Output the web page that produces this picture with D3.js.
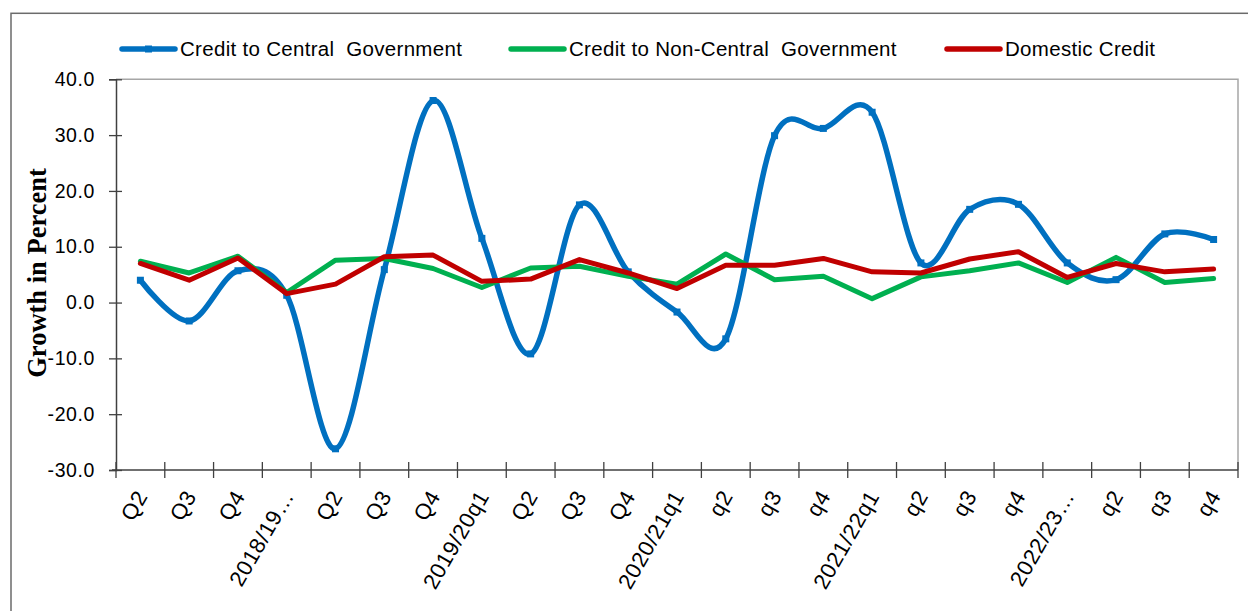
<!DOCTYPE html>
<html>
<head>
<meta charset="utf-8">
<script src="https://cdn.jsdelivr.net/npm/d3@7"></script>
<style>
  body { margin: 0; background: #fff; }
  text { font-family: "Liberation Sans", Arial, sans-serif; fill: #000; }
</style>
</head>
<body>
<div class="chart"></div>
<script>
/* chart data */
const categories = ["Q2", "Q3", "Q4", "2018/19\u2026", "Q2", "Q3", "Q4", "2019/20q1",
  "Q2", "Q3", "Q4", "2020/21q1", "q2", "q3", "q4", "2021/22q1",
  "q2", "q3", "q4", "2022/23\u2026", "q2", "q3", "q4"];

const centralGov = [4.0, -3.3, 5.7, 1.3, -26.2, 5.9, 36.2, 11.5, -9.2, 17.5, 5.5, -1.7,
  -6.5, 29.9, 31.2, 34.1, 7.1, 16.7, 17.6, 7.1, 4.1, 12.3, 11.3];

const nonCentralGov = [7.4, 5.3, 8.3, 1.8, 7.6, 7.9, 6.1, 2.7, 6.2, 6.5, 4.7, 3.3,
  8.7, 4.1, 4.7, 0.7, 4.6, 5.7, 7.1, 3.6, 8.1, 3.6, 4.3];

const domesticCredit = [7.0, 4.0, 8.0, 1.6, 3.3, 8.2, 8.5, 3.8, 4.2, 7.7, 5.3, 2.5,
  6.7, 6.7, 7.9, 5.5, 5.3, 7.8, 9.1, 4.5, 7.0, 5.5, 6.0];

const yTicks = [-30, -20, -10, 0, 10, 20, 30, 40];

const seriesNames = ["Credit to Central  Government", "Credit to Non-Central  Government", "Domestic Credit"];
const seriesColors = ["#0070C0", "#00B050", "#C00000"];

/* dimensions */
const W = 1248, H = 611;
const plot = {left: 116, right: 1238, top: 79.3, bottom: 470};

const svg = d3.select(".chart")
  .append("svg")
  .attr("width", W)
  .attr("height", H);

/* outer frame */
svg.append("rect")
  .attr("x", 11).attr("y", 13.3)
  .attr("width", 1260).attr("height", 640)
  .attr("fill", "none")
  .attr("stroke", "#6b6b6b")
  .attr("stroke-width", 1.5);

/* scales */
const x = d3.scaleBand()
  .domain(categories.map((d, i) => i))
  .range([plot.left, plot.right]);
const cx = i => x(i) + x.bandwidth() / 2;

const y = d3.scaleLinear()
  .domain([-30, 40])
  .range([plot.bottom, plot.top]);

/* plot area border (top + right) */
svg.append("path")
  .attr("d", `M${plot.left},${plot.top}H${plot.right}V${plot.bottom}`)
  .attr("fill", "none")
  .attr("stroke", "#a6a6a6")
  .attr("stroke-width", 1.5);

/* y axis */
const yAxis = svg.append("g")
  .attr("transform", `translate(${plot.left},0)`)
  .call(d3.axisLeft(y).tickValues(yTicks).tickFormat(d => d.toFixed(1)).tickSize(7).tickPadding(14));
yAxis.select(".domain").attr("stroke", "#404040").attr("stroke-width", 1.5);
yAxis.selectAll(".tick line").attr("x2", 6).attr("x1", -7).attr("stroke", "#404040").attr("stroke-width", 1.3);
yAxis.selectAll(".tick text")
  .attr("font-size", 19.5)
  .attr("letter-spacing", 0.6)
  .attr("font-family", "'Liberation Sans', Arial, sans-serif")
  .attr("fill", "#000");

/* x axis: ticks between categories */
const xEdges = categories.map((d, i) => x(i)).concat([plot.right]);
const xAxis = svg.append("g").attr("class", "xAxis");
xAxis.append("line")
  .attr("x1", plot.left - 4).attr("x2", plot.right)
  .attr("y1", plot.bottom).attr("y2", plot.bottom)
  .attr("stroke", "#404040").attr("stroke-width", 1.5);
xAxis.selectAll("line.tk")
  .data(xEdges)
  .join("line")
  .attr("class", "tk")
  .attr("x1", d => d).attr("x2", d => d)
  .attr("y1", plot.bottom - 8).attr("y2", plot.bottom + 8)
  .attr("stroke", "#404040").attr("stroke-width", 1.3);

xAxis.selectAll("text.lbl")
  .data(categories)
  .join("text")
  .attr("class", "lbl")
  .attr("transform", (d, i) => `translate(${cx(i) + 8},${plot.bottom + 26}) rotate(-60)`)
  .attr("text-anchor", "end")
  .attr("font-size", 22)
  .attr("letter-spacing", 0.6)
  .text(d => d);

/* y axis title */
svg.append("text")
  .attr("transform", `translate(46,273) rotate(-90)`)
  .attr("text-anchor", "middle")
  .attr("font-weight", "bold")
  .attr("font-size", 26.5)
  .style("font-family", "'Liberation Serif', 'Times New Roman', serif")
  .text("Growth in Percent");

/* lines */
const smooth = d3.line()
  .x((d, i) => cx(i))
  .y(d => y(d))
  .curve(d3.curveCatmullRom.alpha(0));
const straight = d3.line()
  .x((d, i) => cx(i))
  .y(d => y(d));

svg.append("path")
  .attr("d", smooth(centralGov))
  .attr("fill", "none")
  .attr("stroke", seriesColors[0])
  .attr("stroke-width", 5.5)
  .attr("stroke-linecap", "round");

svg.selectAll("rect.mk")
  .data(centralGov)
  .join("rect")
  .attr("class", "mk")
  .attr("x", (d, i) => cx(i) - 3.5)
  .attr("y", d => y(d) - 3.5)
  .attr("width", 7).attr("height", 7)
  .attr("fill", seriesColors[0]);

svg.append("path")
  .attr("d", straight(nonCentralGov))
  .attr("fill", "none")
  .attr("stroke", seriesColors[1])
  .attr("stroke-width", 5)
  .attr("stroke-linejoin", "round")
  .attr("stroke-linecap", "round");

svg.append("path")
  .attr("d", straight(domesticCredit))
  .attr("fill", "none")
  .attr("stroke", seriesColors[2])
  .attr("stroke-width", 5)
  .attr("stroke-linejoin", "round")
  .attr("stroke-linecap", "round");

/* legend */
const legendX = [122, 511, 947];
const legend = svg.selectAll("g.legend")
  .data(seriesNames)
  .join("g")
  .attr("class", "legend")
  .attr("transform", (d, i) => `translate(${legendX[i]},49)`);

legend.append("line")
  .attr("x1", 0).attr("x2", 53)
  .attr("stroke", (d, i) => seriesColors[i])
  .attr("stroke-width", 5.5)
  .attr("stroke-linecap", "round");

legend.filter((d, i) => i === 0)
  .append("rect")
  .attr("x", 23).attr("y", -3.5)
  .attr("width", 7).attr("height", 7)
  .attr("fill", seriesColors[0]);

legend.append("text")
  .attr("x", 58)
  .attr("y", 7)
  .attr("font-size", 20.5)
  .attr("letter-spacing", 0.3)
  .style("white-space", "pre")
  .text(d => d);
</script>
</body>
</html>
